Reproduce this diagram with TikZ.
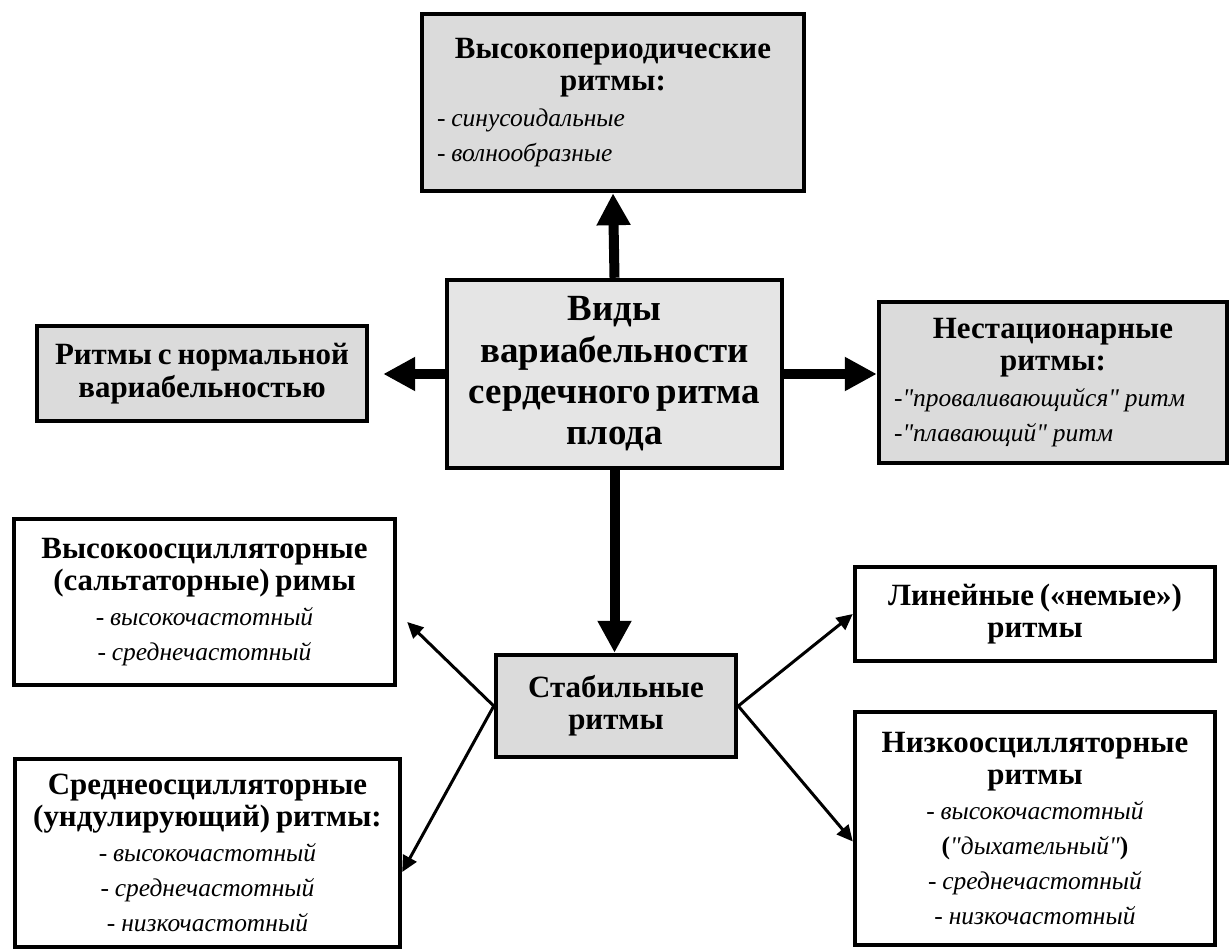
\documentclass[tikz,border=0pt]{standalone}
\usepackage{fontspec}
\setmainfont{Liberation Serif}
\usepackage{xcolor}
\usetikzlibrary{arrows.meta}
\definecolor{boxgray}{gray}{0.86}
\definecolor{maingray}{gray}{0.90}
\newcommand\headtext[1]{{\centering\fontsize{17.6}{18.4}\selectfont\bfseries #1\par}}
\newcommand\itemtext[1]{{\fontsize{14.5}{20}\selectfont\itshape #1\par}}
\newcommand\qq{\textquotedbl}
\tikzset{
block/.style={
draw,
line width=0.09cm,
align=center,
inner xsep=0.3cm,
inner ysep=0cm
},
grayblock/.style={
block,
fill=boxgray
},
bigarrow/.style={
-{Triangle[length=0.64cm,width=0.64cm]},
line width=0.2cm
},
arrow/.style={
-{Triangle[length=0.32cm,width=0.3cm]},
line width=0.06cm
}
}
\begin{document}
\begin{tikzpicture}[x=0.02cm,y=-0.02cm]
\useasboundingbox (0,0) rectangle (1230,949);
% top row
\node[grayblock,align=left,minimum width=7.64cm,minimum height=3.54cm,text width=7.04cm](hiper) at (613,102.5)
{\headtext{Высокопериодические\\ритмы:}\itemtext{- синусоидальные\\- волнообразные}\vspace{0.35cm}};
% centre
\node[block,fill=maingray,minimum width=6.7cm,minimum height=3.76cm,text width=6.1cm](main) at (614.5,374)
{{\fontsize{21}{23.5}\selectfont\bfseries Виды\\вариабельности\\сердечного ритма\\плода\par}};
\node[grayblock,minimum width=6.56cm,minimum height=1.9cm,text width=6cm](norm) at (202,373.5)
{\headtext{Ритмы с нормальной\\вариабельностью}};
\node[grayblock,align=left,minimum width=6.96cm,minimum height=3.22cm,text width=6.36cm](nonst) at (1053,382.5)
{\headtext{Нестационарные\\ритмы:}\itemtext{-\qq проваливающийся\qq{} ритм\\-\qq плавающий\qq{} ритм}};
% stable rhythms
\node[grayblock,minimum width=4.76cm,minimum height=2.04cm,text width=4.2cm](stab) at (616,706)
{\headtext{Стабильные\\ритмы}};
\node[block,minimum width=7.62cm,minimum height=3.32cm,text width=7cm](hosc) at (204.5,602)
{\headtext{Высокоосцилляторные\\(сальтаторные) римы}\itemtext{- высокочастотный\\- среднечастотный}};
\node[block,minimum width=7.7cm,minimum height=3.76cm,text width=7.1cm](mosc) at (207.5,853)
{\headtext{Среднеосцилляторные\\(ундулирующий) ритмы:}\itemtext{- высокочастотный\\- среднечастотный\\- низкочастотный}};
\node[block,minimum width=7.2cm,minimum height=1.88cm,text width=6.6cm](lin) at (1035,614)
{\headtext{Линейные («немые»)\\ритмы}};
\node[block,minimum width=7.2cm,minimum height=4.66cm,text width=6.6cm](losc) at (1035,828.5)
{\headtext{Низкоосцилляторные\\ритмы}\itemtext{- высокочастотный\\{\upshape\bfseries(}\qq дыхательный\qq{\upshape\bfseries)}\\- среднечастотный\\- низкочастотный}};

\draw[bigarrow](main.north)--(hiper.south);
\draw[bigarrow,shorten >=0.28cm](main.west)--(main.west-|norm.east);
\draw[bigarrow](main.east)--(main.east-|nonst.west);
\draw[bigarrow](main.south)--(main.south|-stab.north);

\draw[arrow](stab.west)--([xshift=0.2cm,yshift=-0.4cm]hosc.east);
\draw[arrow](stab.west)--([yshift=-0.38cm]mosc.east);
\draw[arrow](stab.east)--(lin.west);
\draw[arrow](stab.east)--([yshift=-0.26cm]losc.west);
\end{tikzpicture}
\end{document}
